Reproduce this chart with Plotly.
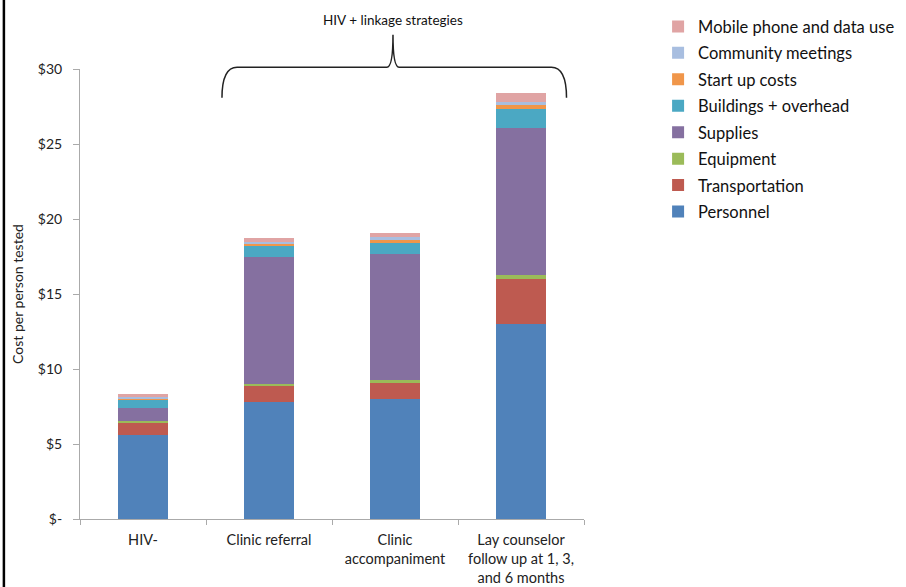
import plotly.graph_objects as go

categories = ["HIV-", "Clinic referral", "Clinic<br>accompaniment", "Lay counselor<br>follow up at 1, 3,<br>and 6 months"]

personnel      = [5.60, 7.80, 7.98, 13.00]
transportation = [0.85, 1.04, 1.11, 3.02]
equipment      = [0.10, 0.18, 0.18, 0.27]
supplies       = [0.85, 8.43, 8.42, 9.80]
buildings      = [0.55, 0.75, 0.73, 1.22]
startup        = [0.10, 0.16, 0.20, 0.29]
community      = [0.10, 0.11, 0.16, 0.22]
mobile         = [0.18, 0.24, 0.26, 0.56]

series = [
    ("Personnel", personnel, "#5082BA"),
    ("Transportation", transportation, "#BE5A50"),
    ("Equipment", equipment, "#9BBB59"),
    ("Supplies", supplies, "#8570A0"),
    ("Buildings + overhead", buildings, "#4BA8C3"),
    ("Start up costs", startup, "#F0964A"),
    ("Community meetings", community, "#A8BEE0"),
    ("Mobile phone and data use", mobile, "#E0A4A4"),
]

tick_vals = [0, 5, 10, 15, 20, 25, 30]
tick_text = ["$-", "$5", "$10", "$15", "$20", "$25", "$30"]

fig = go.Figure()
n = len(series)
for i, (name, vals, col) in enumerate(series):
    fig.add_trace(go.Bar(x=categories, y=vals, name=name, legendgroup=name,
                         legendrank=n - i,
                         marker=dict(color=col, line=dict(width=0))))

FONT = "Lato, Open Sans, sans-serif"
fig.update_layout(
    barmode="stack",
    bargap=0.6,
    width=906, height=587,
    margin=dict(l=80, r=322, t=69, b=68, autoexpand=False),
    plot_bgcolor="white", paper_bgcolor="white",
    font=dict(family=FONT, size=14, color="#222222"),
    showlegend=True,
    legend=dict(x=1.147, y=1.133, xanchor="left", yanchor="top",
                traceorder="grouped", tracegroupgap=2,
                font=dict(size=16.5, color="#111111"), itemwidth=30),
    xaxis=dict(showline=True, linecolor="#aaaaaa", linewidth=1, automargin=False,
               ticks="outside", tickson="boundaries", ticklen=5, tickcolor="#aaaaaa",
               ticklabelstandoff=8,
               tickfont=dict(size=14.5), showgrid=False),
    yaxis=dict(range=[0, 30], tickvals=tick_vals, ticktext=tick_text, automargin=False,
               showline=True, linecolor="#aaaaaa", linewidth=1,
               ticks="outside", ticklen=6, tickcolor="#aaaaaa",
               ticklabelstandoff=8,
               showgrid=False, zeroline=False, tickfont=dict(size=14),
               title=dict(text="Cost per person tested", font=dict(size=14), standoff=10)),
)

# curly brace over the linkage strategies
xl, xt, xr = 0.2817, 0.621, 0.9653
yb, yh, ytip = 0.936, 1.004, 1.076
path = (f"M {xl},{yb} Q {xl},{yh} {xl+0.03},{yh} L {xt-0.012},{yh} "
        f"Q {xt},{yh} {xt},{ytip} Q {xt},{yh} {xt+0.012},{yh} "
        f"L {xr-0.03},{yh} Q {xr},{yh} {xr},{yb}")
fig.add_shape(type="path", path=path, xref="paper", yref="paper",
              line=dict(color="#222222", width=1.5))
fig.add_annotation(x=xt, y=1.109, xref="paper", yref="paper", text="HIV + linkage strategies",
                   xanchor="center", yanchor="middle",
                   showarrow=False, font=dict(size=13.5, color="#111111"))

# left frame line
fig.add_shape(type="line", xref="paper", yref="paper", x0=-0.151, x1=-0.151, y0=-0.16, y1=1.16,
              line=dict(color="black", width=2.5))

fig.write_html("out.html")
